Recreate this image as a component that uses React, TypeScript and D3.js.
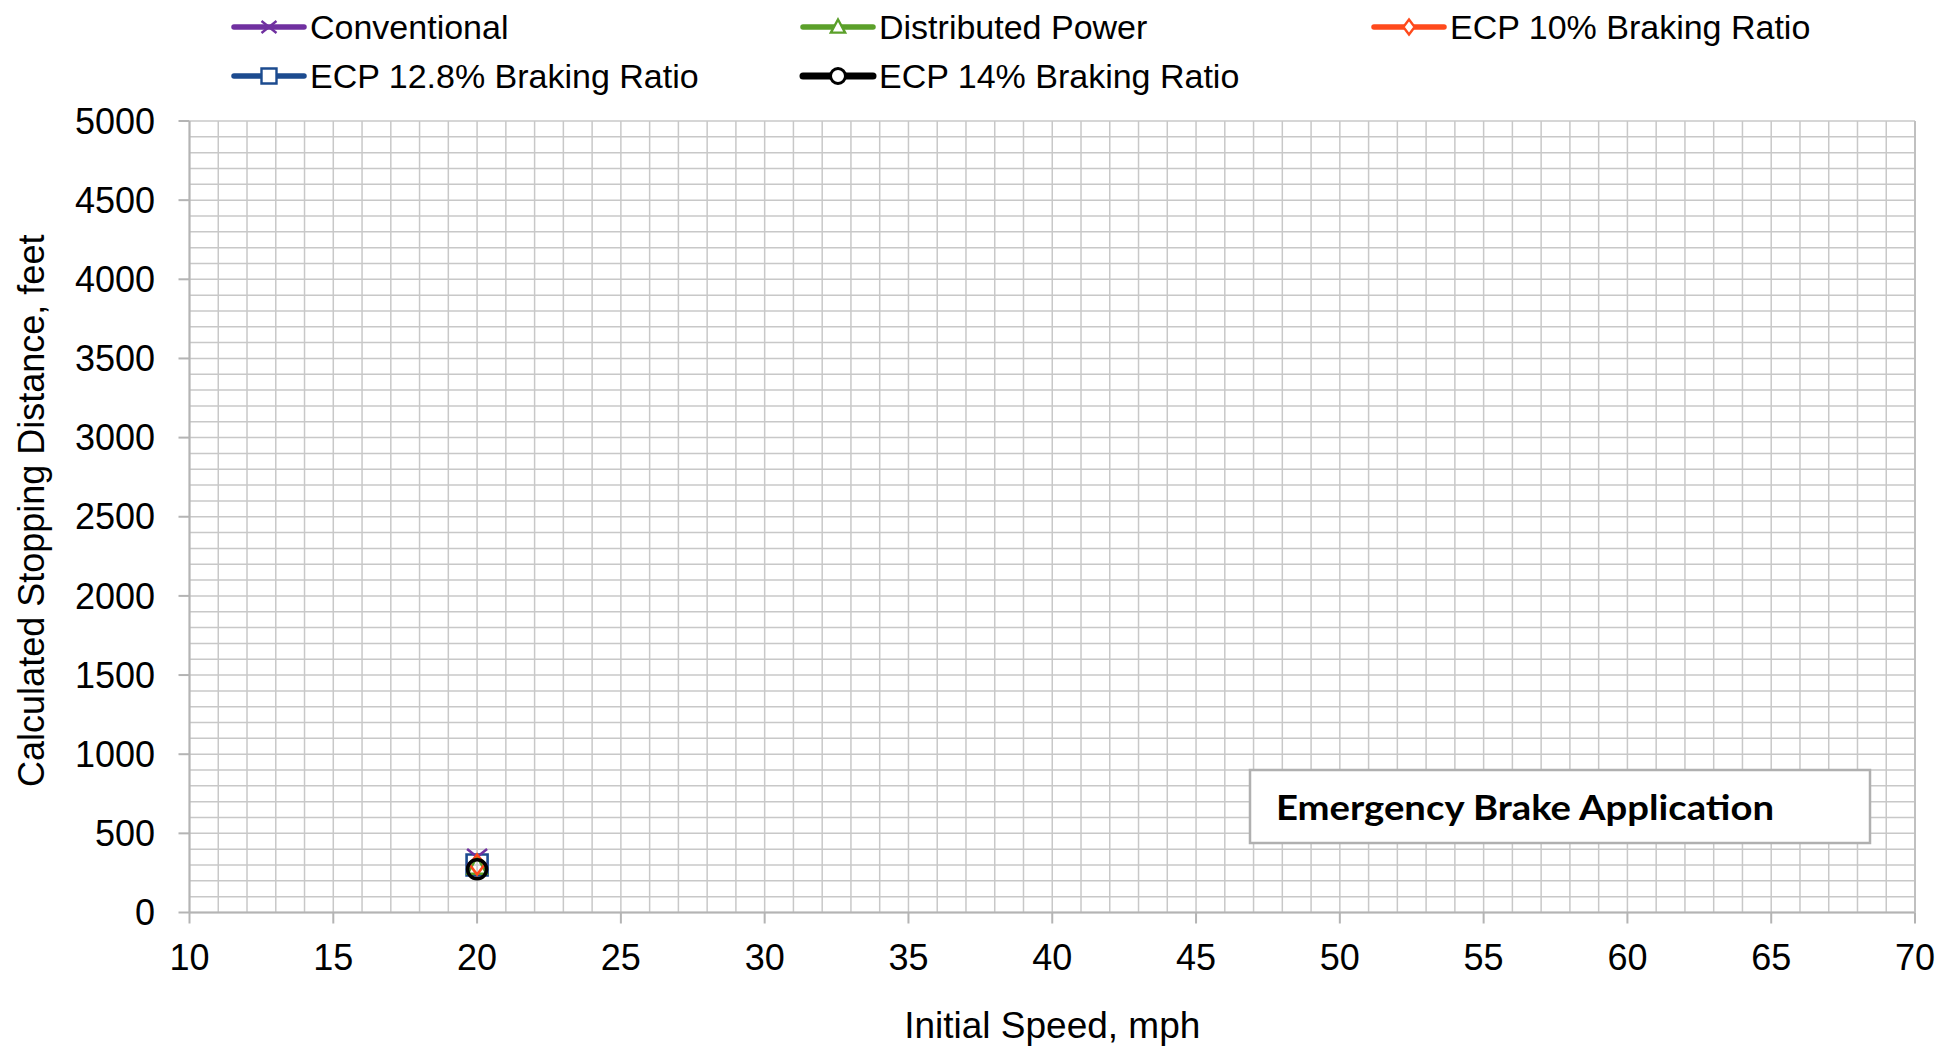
import React from "react";
import * as d3 from "d3";

// Emergency brake stopping distance by initial speed, one series per braking setup
const seriesNames = [
  "Conventional",
  "Distributed Power",
  "ECP 10% Braking Ratio",
  "ECP 12.8% Braking Ratio",
  "ECP 14% Braking Ratio",
];
const seriesColors = ["#7030a0", "#5ba02a", "#ff4a1c", "#1c4b8f", "#000000"];
const seriesMarkers = ["cross", "triangle", "diamond", "square", "circle"];
const speeds = [20];
const conventional = [350];
const distributedPower = [292];
const ecp10 = [303];
const ecp128 = [300];
const ecp14 = [273];
const seriesValues = [conventional, distributedPower, ecp10, ecp128, ecp14];

const xTicks = [10, 15, 20, 25, 30, 35, 40, 45, 50, 55, 60, 65, 70];
const yTicks = [0, 500, 1000, 1500, 2000, 2500, 3000, 3500, 4000, 4500, 5000];

const W = 1944;
const H = 1046;
const plot = { left: 189.5, right: 1915, top: 121, bottom: 912.5 };

const FONT = "'Liberation Sans', Arial, Helvetica, sans-serif";

function markerPath(kind: string, s: number): string {
  const h = s / 2;
  switch (kind) {
    case "cross":
      return `M${-h},${-h * 0.8}L${h},${h * 0.8}M${-h},${h * 0.8}L${h},${-h * 0.8}`;
    case "triangle":
      return `M0,${-h}L${h * 0.95},${h * 0.75}L${-h * 0.95},${h * 0.75}Z`;
    case "diamond":
      return `M0,${-h}L${h * 0.75},0L0,${h}L${-h * 0.75},0Z`;
    case "square":
      return `M${-h},${-h}H${h}V${h}H${-h}Z`;
    default:
      return d3.arc()({ innerRadius: 0, outerRadius: h, startAngle: 0, endAngle: 2 * Math.PI }) || "";
  }
}

function Marker({ kind, color, x, y, size }: { kind: string; color: string; x: number; y: number; size: number }) {
  const sw = kind === "circle" ? 3.5 : 2.6;
  return (
    <path
      d={markerPath(kind, size)}
      transform={`translate(${x},${y})`}
      fill="none"
      stroke={color}
      strokeWidth={sw}
    />
  );
}

export default function App() {
  const x = d3.scaleLinear().domain([10, 70]).range([plot.left, plot.right]);
  const y = d3.scaleLinear().domain([0, 5000]).range([plot.bottom, plot.top]);

  const xMinor = d3.range(10, 71, 1);
  const yMinor = d3.range(0, 5001, 100);

  // legend placement: two rows, three columns
  const legendCols = [234, 803, 1374];
  const legendRows = [27, 76];
  const legendItems = seriesNames.map((name, i) => ({
    name,
    color: seriesColors[i],
    marker: seriesMarkers[i],
    lx: legendCols[i % 3],
    ly: legendRows[Math.floor(i / 3)],
  }));

  // draw order keeps the square at the back and the circle on top
  const drawOrder = [3, 0, 1, 2, 4];

  return (
    <div style={{ position: "absolute", left: 0, top: 0 }}>
      <svg width={W} height={H} viewBox={`0 0 ${W} ${H}`} style={{ display: "block", background: "#fff" }}>
        <rect x={0} y={0} width={W} height={H} fill="#ffffff" />
        {/* grid */}
        <g stroke="#c8c8c8" strokeWidth={1.5}>
          {xMinor.map((v) => (
            <line key={`gx${v}`} x1={x(v)} x2={x(v)} y1={plot.top} y2={plot.bottom} />
          ))}
          {yMinor.map((v) => (
            <line key={`gy${v}`} x1={plot.left} x2={plot.right} y1={y(v)} y2={y(v)} />
          ))}
        </g>
        {/* axes and major ticks */}
        <g stroke="#b4b4b4" strokeWidth={2}>
          <line x1={plot.left} x2={plot.left} y1={plot.top} y2={plot.bottom} />
          <line x1={plot.left} x2={plot.right} y1={plot.bottom} y2={plot.bottom} />
          <line x1={plot.right} x2={plot.right} y1={plot.top} y2={plot.bottom} stroke="#c0c0c0" />
          {yTicks.map((v) => (
            <line key={`ty${v}`} x1={plot.left - 11} x2={plot.left} y1={y(v)} y2={y(v)} />
          ))}
          {xTicks.map((v) => (
            <line key={`tx${v}`} x1={x(v)} x2={x(v)} y1={plot.bottom} y2={plot.bottom + 11} />
          ))}
        </g>
        {/* tick labels */}
        <g fontFamily={FONT} fontSize={36} fill="#000">
          {yTicks.map((v) => (
            <text key={`ly${v}`} x={155} y={y(v)} dy="0.35em" textAnchor="end">
              {v}
            </text>
          ))}
          {xTicks.map((v) => (
            <text key={`lx${v}`} x={x(v)} y={970} textAnchor="middle">
              {v}
            </text>
          ))}
        </g>
        {/* axis titles */}
        <text
          x={(plot.left + plot.right) / 2}
          y={1038}
          textAnchor="middle"
          fontFamily={FONT}
          fontSize={37}
          fill="#000"
        >
          Initial Speed, mph
        </text>
        <text
          transform={`translate(44,${(plot.top + plot.bottom) / 2 - 6}) rotate(-90)`}
          textAnchor="middle"
          fontFamily={FONT}
          fontSize={36}
          fill="#000"
        >
          Calculated Stopping Distance, feet
        </text>
        {/* annotation box */}
        <rect x={1250} y={770} width={620} height={73} fill="#ffffff" stroke="#b0b0b0" strokeWidth={2.5} />
        <text
          x={1276}
          y={820}
          fontFamily="Lato, 'Open Sans', sans-serif"
          fontWeight={700}
          fontSize={35}
          fill="#000"
          textLength={498}
          lengthAdjust="spacingAndGlyphs"
        >
          Emergency Brake Application
        </text>
        {/* data markers */}
        <g>
          {drawOrder.map((si) =>
            speeds.map((s, j) => (
              <Marker
                key={`m${si}-${j}`}
                kind={seriesMarkers[si]}
                color={seriesColors[si]}
                x={x(s)}
                y={y(seriesValues[si][j])}
                size={seriesMarkers[si] === "square" ? 21 : seriesMarkers[si] === "circle" ? 19 : 20}
              />
            ))
          )}
        </g>
        {/* legend */}
        <g>
          {legendItems.map((it) => (
            <g key={it.name}>
              <line
                x1={it.lx}
                x2={it.lx + 70}
                y1={it.ly}
                y2={it.ly}
                stroke={it.color}
                strokeWidth={it.marker === "circle" ? 7 : 5.5}
                strokeLinecap="round"
              />
              <path
                d={markerPath(it.marker, 15)}
                transform={`translate(${it.lx + 35},${it.ly})`}
                fill={it.marker === "cross" ? "none" : "#ffffff"}
                stroke={it.color}
                strokeWidth={it.marker === "circle" ? 3 : 2.4}
              />
              <text x={it.lx + 76} y={it.ly} dy="0.35em" fontFamily={FONT} fontSize={34} fill="#000">
                {it.name}
              </text>
            </g>
          ))}
        </g>
      </svg>
    </div>
  );
}
